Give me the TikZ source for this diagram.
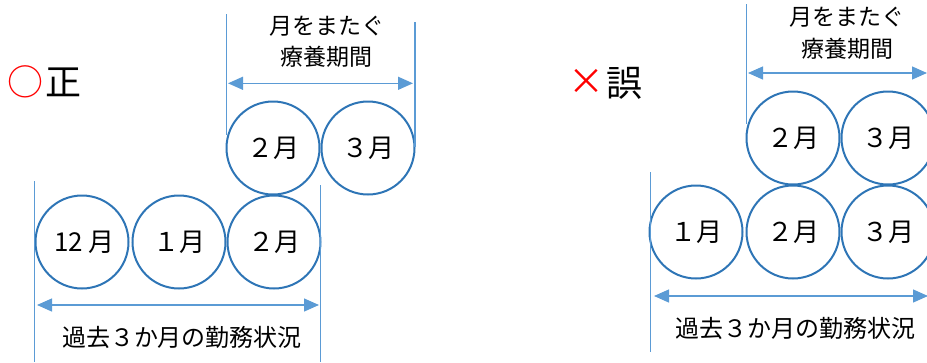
\documentclass[tikz,border=0pt]{standalone}
\usepackage{fontspec}
\setmainfont{Noto Sans CJK JP}
\usetikzlibrary{arrows.meta}
\definecolor{cblue}{HTML}{2E75B6}
\definecolor{lblue}{HTML}{5B9BD5}
\definecolor{mred}{HTML}{FF0000}
\begin{document}
\begin{tikzpicture}[x=1pt,y=-1pt,
  month/.style={circle,draw=cblue,line width=2pt,minimum size=93pt,inner sep=0pt,font=\fontsize{26}{26}\selectfont},
  dim/.style={draw=lblue,line width=1.3pt},
  dimarrow/.style={dim,{Triangle[length=15pt,width=13pt]}-{Triangle[length=15pt,width=13pt]}},
  lbl/.style={font=\fontsize{23}{23}\selectfont,inner sep=0pt},
  lblwide/.style={font=\fontsize{24}{24}\selectfont,inner sep=0pt},
  bigsign/.style={font=\fontsize{36}{36}\selectfont,inner sep=0pt}]
\useasboundingbox (0,0) rectangle (927,362);
\clip (0,0) rectangle (927,362);
% ---------- left panel ----------
\node[bigsign,text=mred] (okmark) at (26,82) {○};
\node[bigsign] (oktext) at (63.5,82) {正};
\node[month] (L12) at (82,242) {\hspace{5pt}12 月};
\node[month] (L1) at (179,242) {１月};
\node[month] (L2) at (274,242) {２月};
\node[month] (LT2) at (273,148) {２月};
\node[month] (LT3) at (368,148) {３月};
\coordinate (la1) at (34.7,181); \coordinate (la2) at (34.7,362);
\coordinate (lb1) at (320.7,185); \coordinate (lb2) at (320.7,362);
\coordinate (lc1) at (226.7,14); \coordinate (lc2) at (226.7,135);
\coordinate (ld1) at (415,22); \coordinate (ld2) at (415,147);
\draw[dim] (la1) -- (la2);
\draw[dim] (lb1) -- (lb2);
\draw[dim] (lc1) -- (lc2);
\draw[dim] (ld1) -- (ld2);
\coordinate (lt1) at (228,83.3); \coordinate (lt2) at (413,83.3);
\coordinate (lbA) at (37,305); \coordinate (lbB) at (319,305);
\draw[dimarrow] (lt1) -- (lt2);
\draw[dimarrow] (lbA) -- (lbB);
\node[lbl] (ltop1) at (327,26) {月をまたぐ};
\node[lbl] (ltop2) at (326,57) {療養期間};
\node[lblwide] (lbot) at (182,337) {過去３か月の勤務状況};
% ---------- right panel ----------
\node[bigsign,text=mred] (ngmark) at (586,82) {×};
\node[bigsign] (ngtext) at (624,83) {誤};
\node[month] (R1) at (696,232) {１月};
\node[month] (R2) at (793,232) {２月};
\node[month] (R3) at (888,232) {３月};
\node[month] (RT2) at (793,138) {２月};
\node[month] (RT3) at (888,138) {３月};
\coordinate (ra1) at (746.7,4); \coordinate (ra2) at (746.7,124);
\coordinate (rb1) at (650.7,172); \coordinate (rb2) at (650.7,352);
\draw[dim] (ra1) -- (ra2);
\draw[dim] (rb1) -- (rb2);
\coordinate (rt1) at (748,73); \coordinate (rt2) at (927,73);
\coordinate (rbA) at (654,296); \coordinate (rbB) at (928,296);
\draw[dimarrow] (rt1) -- (rt2);
\draw[dimarrow] (rbA) -- (rbB);
\node[lbl] (rtop1) at (847,17) {月をまたぐ};
\node[lbl] (rtop2) at (847,49) {療養期間};
\node[lblwide] (rbot) at (795,328) {過去３か月の勤務状況};
\end{tikzpicture}
\end{document}
